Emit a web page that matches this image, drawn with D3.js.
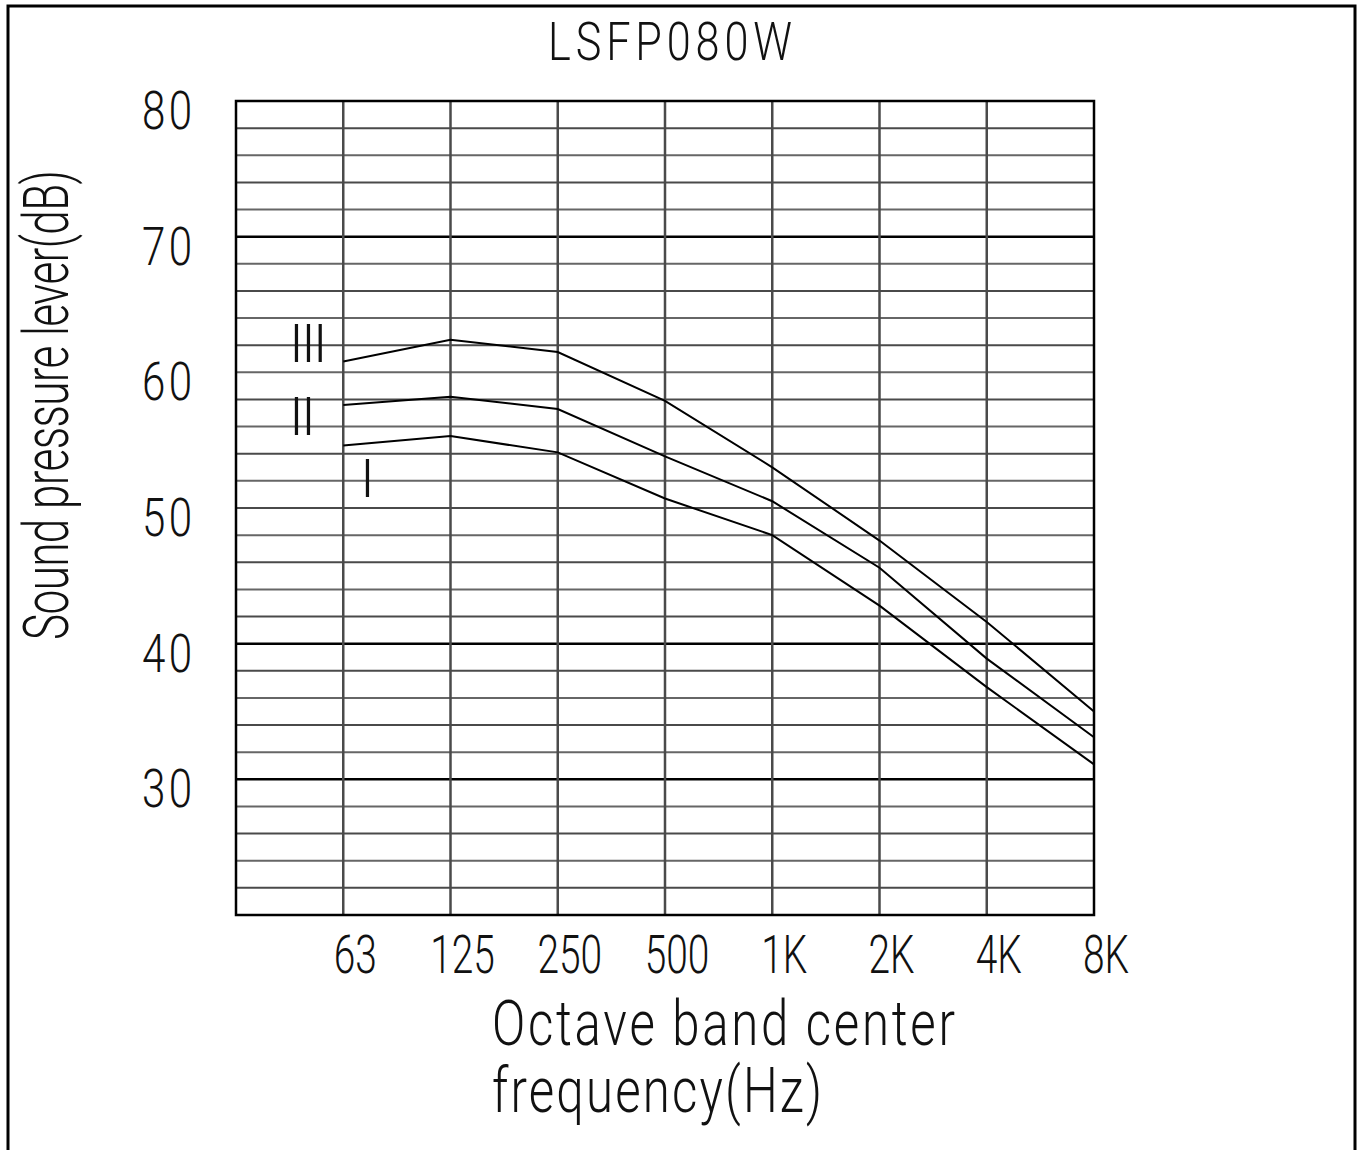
<!DOCTYPE html>
<html>
<head>
<title>LSFP080W</title>
<style>
  body { margin: 0; background: #fff; }
  text { font-family: Roboto, "DejaVu Sans", sans-serif; font-weight: 300; fill: #111; }
</style>
</head>
<body>
<div id="chart"></div>
<script src="https://d3js.org/d3.v7.min.js"></script>
<script>

// octave band centres and the three noise curves (dB)
const bands = ["63", "125", "250", "500", "1K", "2K", "4K", "8K"];
const seriesI = [54.6, 55.3, 54.1, 50.7, 48.0, 42.8, 36.8, 31.1];
const seriesII = [57.6, 58.2, 57.3, 53.8, 50.5, 45.6, 38.9, 33.1];
const seriesIII = [60.8, 62.4, 61.5, 57.9, 53.0, 47.6, 41.6, 35.0];
const seriesNames = ["I", "II", "III"];
const yTicks = [30, 40, 50, 60, 70, 80];
const boldLines = [30, 40, 70];

const width = 1358;
const height = 1150;
const margin = { top: 101, right: 264, bottom: 235, left: 236 };

const svg = d3.select("#chart")
  .append("svg")
  .attr("width", width)
  .attr("height", height);

// one empty column left of 63 Hz
const x = d3.scaleLinear()
  .domain([-1, bands.length - 1])
  .range([margin.left, width - margin.right]);

const y = d3.scaleLinear()
  .domain([20, 80])
  .range([height - margin.bottom, margin.top]);

// outer frame (top, left, right)
svg.append("path")
  .attr("d", "M8,1150 V6 H1355 V1150")
  .attr("fill", "none")
  .attr("stroke", "#000")
  .attr("stroke-width", 3);

// narrow CAD-like text
function label(str, px, py, size, anchor, sx, len) {
  const t = svg.append("text")
    .attr("transform", `translate(${px},${py}) scale(${sx},1)`)
    .attr("font-size", size)
    .attr("text-anchor", anchor)
    .text(str);
  if (len) t.attr("textLength", len / sx).attr("lengthAdjust", "spacing");
  return t;
}

// horizontal grid, every 2 dB
const grid = svg.append("g");
grid.selectAll("line.h")
  .data(d3.range(22, 80, 2))
  .join("line")
    .attr("x1", x(-1))
    .attr("x2", x(bands.length - 1))
    .attr("y1", d => y(d))
    .attr("y2", d => y(d))
    .attr("stroke", d => boldLines.includes(d) ? "#000" : (d % 4 === 0 ? "#666" : "#4a4a4a"))
    .attr("stroke-width", d => boldLines.includes(d) ? 2.5 : 2);

// vertical grid on band centres
grid.selectAll("line.v")
  .data(d3.range(0, bands.length - 1))
  .join("line")
    .attr("x1", d => x(d))
    .attr("x2", d => x(d))
    .attr("y1", y(80))
    .attr("y2", y(20))
    .attr("stroke", "#4a4a4a")
    .attr("stroke-width", 2.5);

// plot border
svg.append("rect")
  .attr("x", x(-1))
  .attr("y", y(80))
  .attr("width", x(bands.length - 1) - x(-1))
  .attr("height", y(20) - y(80))
  .attr("fill", "none")
  .attr("stroke", "#000")
  .attr("stroke-width", 2.5);

// y tick labels
yTicks.forEach(v => label(String(v), 192, y(v) + 28, 54, "end", 0.78, 50));

// x tick labels
bands.forEach((b, i) => label(b, x(i) + 12, 973, 54, "middle", 0.72));

// curves
const line = d3.line()
  .x((d, i) => x(i))
  .y(d => y(d));

[seriesI, seriesII, seriesIII].forEach(s => {
  svg.append("path")
    .datum(s)
    .attr("d", line)
    .attr("fill", "none")
    .attr("stroke", "#000")
    .attr("stroke-width", 2);
});

// roman numeral tags next to the curve starts
function numeral(str, px, py) {
  svg.append("text")
    .attr("x", px)
    .attr("y", py)
    .attr("font-size", 54)
    .attr("font-weight", 400)
    .attr("letter-spacing", "-2.5px")
    .text(str);
}
numeral(seriesNames[2], x(0) - 54, y(seriesIII[0]) + 1);
numeral(seriesNames[1], x(0) - 54, y(seriesII[0]) + 30);
numeral(seriesNames[0], x(0) + 17, y(seriesI[0]) + 51);

// titles
label("LSFP080W", 670, 60, 54, "middle", 0.8, 244);
label("Octave band center", 492, 1045, 63, "start", 0.78, 463);
label("frequency(Hz)", 492, 1112, 63, "start", 0.78, 330);

svg.append("text")
  .attr("transform", "translate(68,405) rotate(-90) scale(0.7,1)")
  .attr("font-size", 63)
  .attr("text-anchor", "middle")
  .attr("textLength", 470 / 0.7)
  .attr("lengthAdjust", "spacing")
  .text("Sound pressure lever(dB)");

</script>
</body>
</html>
